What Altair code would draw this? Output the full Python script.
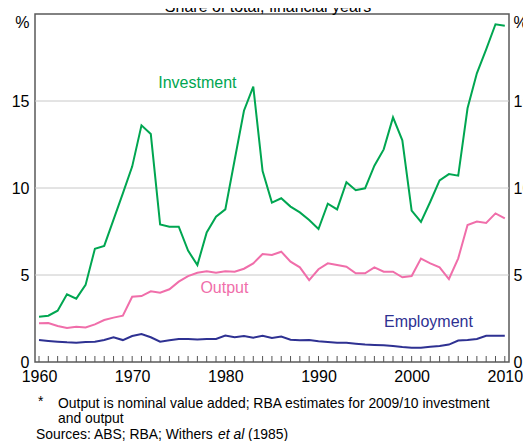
import altair as alt
import pandas as pd

years = list(range(1960, 2011))

investment = [2.60, 2.66, 2.95, 3.89, 3.64, 4.43, 6.51, 6.67, 8.18, 9.69,
              11.23, 13.60, 13.10, 7.91, 7.78, 7.78, 6.40, 5.57, 7.45, 8.35,
              8.77, 11.61, 14.44, 15.82, 10.97, 9.16, 9.41, 8.93, 8.60, 8.16,
              7.64, 9.10, 8.77, 10.33, 9.87, 9.98, 11.28, 12.22, 14.06, 12.74,
              8.70, 8.05, 9.21, 10.44, 10.80, 10.71, 14.58, 16.59, 17.97, 19.41,
              19.33]

output = [2.22, 2.24, 2.07, 1.95, 2.03, 1.99, 2.16, 2.41, 2.55, 2.66,
          3.75, 3.79, 4.06, 3.98, 4.18, 4.62, 4.94, 5.13, 5.21, 5.13,
          5.21, 5.19, 5.36, 5.67, 6.21, 6.15, 6.34, 5.77, 5.44, 4.71,
          5.33, 5.67, 5.57, 5.48, 5.10, 5.10, 5.44, 5.19, 5.19, 4.87,
          4.94, 5.94, 5.67, 5.44, 4.77, 5.96, 7.87, 8.07, 7.99, 8.54,
          8.25]

employment = [1.26, 1.21, 1.17, 1.13, 1.11, 1.15, 1.17, 1.26, 1.42, 1.26,
              1.49, 1.61, 1.42, 1.17, 1.25, 1.32, 1.32, 1.30, 1.32, 1.32,
              1.52, 1.42, 1.49, 1.40, 1.51, 1.38, 1.46, 1.28, 1.25, 1.26,
              1.19, 1.15, 1.11, 1.11, 1.05, 1.00, 0.98, 0.96, 0.92, 0.86,
              0.82, 0.82, 0.88, 0.92, 1.00, 1.23, 1.26, 1.32, 1.51, 1.51,
              1.51]

series_names = ["Investment", "Output", "Employment"]
series_colors = ["#00a651", "#f06eaa", "#2e3192"]

x_labels = [1960, 1970, 1980, 1990, 2000, 2010]
y_labels = [0, 5, 10, 15, 20]
grid_values = [5, 10, 15]

label_years = [1977.0, 1979.9, 2001.8]
label_values = [16.03, 4.25, 2.30]

title_text = "Share of total, financial years"
note_star = "*"
note_line1 = "Output is nominal value added; RBA estimates for 2009/10 investment"
note_line2 = "and output"
source_a = "Sources: ABS; RBA; Withers"
source_b = "et al"
source_c = "(1985)"

FONT = "Arial, Liberation Sans, sans-serif"

rows = []
for name, vals in zip(series_names, [investment, output, employment]):
    for y, v in zip(years, vals):
        rows.append({"year": y, "value": v, "series": name})
df = pd.DataFrame(rows)

xscale = alt.Scale(domain=[1959.57, 2010.45], nice=False, zero=False)
yscale = alt.Scale(domain=[0, 20], nice=False, zero=True)
cscale = alt.Scale(domain=series_names, range=series_colors)

xaxis = alt.Axis(values=x_labels, format="d", ticks=False, domain=False,
                 grid=False, title=None, labelFontSize=16, labelColor="#000",
                 labelPadding=6, labelFont=FONT, labelFlush=False)

pct_expr = "datum.value == 20 ? '%' : datum.label"
pct_base = {"condition": {"test": "datum.value == 20", "value": "top"},
            "value": "middle"}

grid = alt.Chart(pd.DataFrame({"g": grid_values})).mark_rule(
    color="#c8c8c8", strokeWidth=1
).encode(
    y=alt.Y("g:Q", scale=yscale,
            axis=alt.Axis(orient="right", values=y_labels, labelExpr=pct_expr,
                          domain=False, ticks=False, grid=False, title=None,
                          labelFontSize=16, labelColor="#000", labelPadding=4,
                          labelFont=FONT, labelBaseline=pct_base))
)

lines = alt.Chart(df).mark_line(strokeWidth=2).encode(
    x=alt.X("year:Q", scale=xscale, axis=xaxis),
    y=alt.Y("value:Q", scale=yscale,
            axis=alt.Axis(orient="left", values=y_labels, labelExpr=pct_expr,
                          domain=False, ticks=False, grid=False, title=None,
                          labelFontSize=16, labelColor="#000", labelPadding=6,
                          labelFont=FONT, labelBaseline=pct_base)),
    color=alt.Color("series:N", scale=cscale, legend=None),
    detail="series:N",
)

ticks = alt.Chart(pd.DataFrame({"year": years})).mark_rule(
    color="#555555", strokeWidth=1
).encode(
    x=alt.X("year:Q", scale=xscale, axis=xaxis),
    y=alt.value(348),
    y2=alt.value(342),
)

labels_df = pd.DataFrame({"name": series_names, "year": label_years,
                          "ly": label_values})
labels = alt.Chart(labels_df).mark_text(
    fontSize=16, font=FONT, align="center", baseline="middle"
).encode(
    x=alt.X("year:Q", scale=xscale, axis=xaxis),
    y=alt.Y("ly:Q", scale=yscale, axis=None),
    text="name:N",
    color=alt.Color("name:N", scale=cscale, legend=None),
)


def txt(s, x, y, size=13.9, align="left", style="normal", base="middle"):
    return alt.Chart(pd.DataFrame({"s": [s]})).mark_text(
        fontSize=size, font=FONT, align=align, baseline=base, color="#000",
        fontStyle=style
    ).encode(x=alt.value(x), y=alt.value(y), text="s:N")


title = txt(title_text, 233, -2, size=16, align="center", base="alphabetic")
n1 = txt(note_star, 3, 388)
n2 = txt(note_line1, 23, 390)
n3 = txt(note_line2, 23, 405)
s1 = txt(source_a, 1, 421)
s2 = txt(source_b, 183, 421, style="italic")
s3 = txt(source_c, 213, 421)

chart = alt.layer(
    grid, lines, ticks, labels, title, n1, n2, n3, s1, s2, s3
).resolve_axis(y="independent").properties(
    width=474, height=348,
    autosize=alt.AutoSizeParams(type="none"),
    padding={"left": 27, "top": 6, "right": 14, "bottom": 79},
).configure(font=FONT).configure_view(
    stroke="#5a5a5a", strokeWidth=1.5
)

chart.save("out.html", embed_options={"renderer": "svg", "actions": False})
